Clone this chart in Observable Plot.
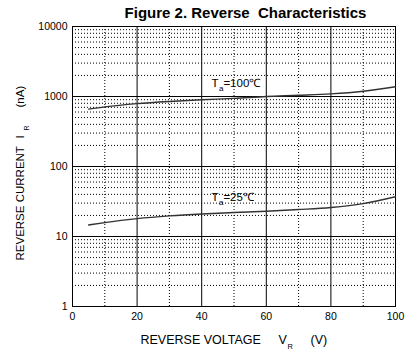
<!DOCTYPE html>
<html><head><meta charset="utf-8">
<script src="https://cdn.jsdelivr.net/npm/d3@7"></script>
<script src="https://cdn.jsdelivr.net/npm/@observablehq/plot@0.6"></script>
<style>
body{margin:0;background:#fff;}
svg{font-family:"Liberation Sans",Arial,sans-serif;}
</style>
</head><body><div id="chart"></div>
<script>
// Data
const voltage    = [5, 10, 20, 30, 40, 50, 60, 70, 80, 90, 100];
const current100 = [660, 710, 790, 850, 900, 940, 1000, 1040, 1090, 1190, 1380];
const current25  = [14.6, 15.8, 18, 19.7, 21, 22, 23, 24.3, 26, 29.5, 37];
const xTicks = [0, 20, 40, 60, 80, 100];
const xMajorGrid = [20, 40, 60, 80];
const xMinorGrid = [10, 30, 50, 70, 90];
const yTicks = [1, 10, 100, 1000, 10000];
const yMajorGrid = [10, 100, 1000];
const yDecades = [1, 10, 100, 1000];
const yMinorMult = [2, 3, 4, 5, 6, 7, 8, 9];
const seriesLabels = [
  {x: 43, y: 1530, t: "T", sub: "a", rest: "=100\u2103"},
  {x: 43, y: 36,   t: "T", sub: "a", rest: "=25\u2103"}
];

const yMinorGrid = yDecades.flatMap(d => yMinorMult.map(m => d * m));
const rows100 = voltage.map((v, i) => ({v, c: current100[i]}));
const rows25  = voltage.map((v, i) => ({v, c: current25[i]}));

const font = '"Liberation Sans", Arial, sans-serif';
const labelFs = 12.5;
const yLabelFs = 11.5;

const chart = Plot.plot({
  width: 414, height: 358,
  marginLeft: 72, marginRight: 19, marginTop: 26, marginBottom: 52,
  style: {fontFamily: font, fontSize: "10.5px", color: "#000", background: "#fff"},
  x: {domain: [0, 100], ticks: xTicks, tickSize: 0, tickPadding: 6, label: null},
  y: {type: "log", domain: [1, 10000], ticks: yTicks, tickFormat: d => String(d), tickSize: 0, tickPadding: 5, label: null},
  marks: [
    Plot.ruleY(yMinorGrid, {stroke: "#000", strokeWidth: 1, strokeDasharray: "1,2"}),
    Plot.ruleX(xMinorGrid, {stroke: "#000", strokeWidth: 1, strokeDasharray: "1,2"}),
    Plot.ruleY(yMajorGrid, {stroke: "#000", strokeWidth: 1}),
    Plot.ruleX(xMajorGrid, {stroke: "#000", strokeWidth: 1}),
    Plot.frame({stroke: "#000", strokeWidth: 1}),
    Plot.line(rows100, {x: "v", y: "c", curve: "monotone-x", stroke: "#333", strokeWidth: 1.4}),
    Plot.line(rows25,  {x: "v", y: "c", curve: "monotone-x", stroke: "#333", strokeWidth: 1.4}),
    // series labels
    Plot.text(seriesLabels, {x: "x", y: "y", text: "t", textAnchor: "start", fontSize: 11.5, fill: "#000"}),
    Plot.text(seriesLabels, {x: "x", y: "y", text: "sub", textAnchor: "start", fontSize: 8, dx: 7.5, dy: 4.5, fill: "#000"}),
    Plot.text(seriesLabels, {x: "x", y: "y", text: "rest", textAnchor: "start", fontSize: 11.5, dx: 12, fill: "#000"}),
    // title
    Plot.text(["Figure 2. Reverse  Characteristics"], {frameAnchor: "top", text: d => d, dx: 11.5, dy: -19, fontSize: 15, fontWeight: "bold", fill: "#000"}),
    // x axis label
    Plot.text(["REVERSE VOLTAGE"], {frameAnchor: "bottom-left", text: d => d, textAnchor: "start", dx: 68, dy: 37.5, fontSize: labelFs, fill: "#000"}),
    Plot.text(["V"], {frameAnchor: "bottom-left", text: d => d, textAnchor: "start", dx: 206, dy: 37.5, fontSize: labelFs, fill: "#000"}),
    Plot.text(["R"], {frameAnchor: "bottom-left", text: d => d, textAnchor: "start", dx: 215, dy: 42, fontSize: 7.5, fill: "#000"}),
    Plot.text(["(V)"], {frameAnchor: "bottom-left", text: d => d, textAnchor: "start", dx: 238, dy: 37.5, fontSize: labelFs, fill: "#000"}),
    // y axis label (rotated)
    Plot.text(["REVERSE CURRENT"], {frameAnchor: "bottom-left", text: d => d, textAnchor: "start", rotate: -90, dx: -48.5, dy: -46, fontSize: yLabelFs, fill: "#000"}),
    Plot.text(["I"], {frameAnchor: "bottom-left", text: d => d, textAnchor: "start", rotate: -90, dx: -48.5, dy: -168, fontSize: yLabelFs, fill: "#000"}),
    Plot.text(["R"], {frameAnchor: "bottom-left", text: d => d, textAnchor: "start", rotate: -90, dx: -44, dy: -176, fontSize: 7, fill: "#000"}),
    Plot.text(["(nA)"], {frameAnchor: "bottom-left", text: d => d, textAnchor: "start", rotate: -90, dx: -48.5, dy: -199, fontSize: yLabelFs, fill: "#000"})
  ]
});
document.getElementById("chart").appendChild(chart);
</script>
</body></html>
